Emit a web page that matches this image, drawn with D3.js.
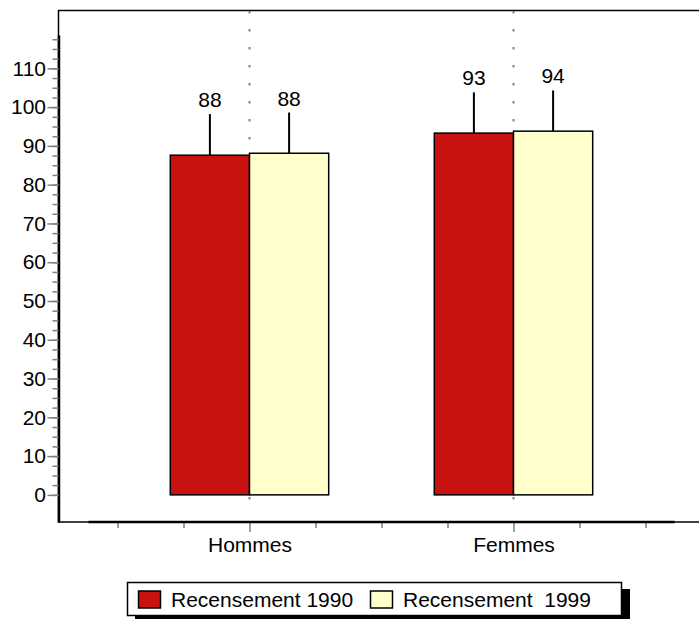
<!DOCTYPE html>
<html>
<head>
<meta charset="utf-8">
<script src="https://cdn.jsdelivr.net/npm/d3@7"></script>
<style>
  html, body { margin: 0; padding: 0; background: #fff; }
  svg { display: block; }
  text { font-family: "Liberation Sans", Arial, sans-serif; }
</style>
</head>
<body>
<svg id="chart" width="699" height="619"></svg>
<script>
// ---- data ----
const categories = ["Hommes", "Femmes"];
const seriesNames = ["Recensement 1990", "Recensement  1999"];
const values1990 = [87.6, 93.3];
const values1999 = [88.1, 93.8];
const errors1990 = [10.6, 10.5];
const errors1999 = [10.5, 10.5];
const yMajorTicks = [0, 10, 20, 30, 40, 50, 60, 70, 80, 90, 100, 110];

const colors = ["#C8120F", "#FFFFCC"];
const fontSize = 21;

const svg = d3.select("#chart");

// scales
const y = d3.scaleLinear().domain([-7, 118.6]).range([522, 35]);
const x = d3.scaleLinear().domain([1, 2]).range([249.5, 513.5]);
const barW = 0.3; // in x units

// frame
svg.append("rect")
  .attr("x", 58.5).attr("y", 10.5).attr("width", 700).attr("height", 511.5)
  .attr("fill", "none").attr("stroke", "#000").attr("stroke-width", 1.5);

// dotted gridlines at category centres
svg.append("g").selectAll("line")
  .data(categories)
  .join("line")
  .attr("x1", (d, i) => x(i + 1)).attr("x2", (d, i) => x(i + 1))
  .attr("y1", 11).attr("y2", 514)
  .attr("stroke", "#808080").attr("stroke-width", 2)
  .attr("stroke-dasharray", "2.5,15.5");

// bars
const series = [
  { name: seriesNames[0], values: values1990, errors: errors1990, color: colors[0], offset: -barW },
  { name: seriesNames[1], values: values1999, errors: errors1999, color: colors[1], offset: 0 }
];

const gBars = svg.append("g");
series.forEach(s => {
  const g = gBars.append("g");
  g.selectAll("line.err")
    .data(s.values)
    .join("line")
    .attr("class", "err")
    .attr("x1", (d, i) => x(i + 1 + s.offset + barW / 2))
    .attr("x2", (d, i) => x(i + 1 + s.offset + barW / 2))
    .attr("y1", d => y(d))
    .attr("y2", (d, i) => y(d + s.errors[i]))
    .attr("stroke", "#000").attr("stroke-width", 2);
  g.selectAll("rect")
    .data(s.values)
    .join("rect")
    .attr("x", (d, i) => x(i + 1 + s.offset))
    .attr("width", x(1 + barW) - x(1))
    .attr("y", d => y(d))
    .attr("height", d => y(0) - y(d))
    .attr("fill", s.color)
    .attr("stroke", "#000").attr("stroke-width", 1.5);
  g.selectAll("text")
    .data(s.values)
    .join("text")
    .attr("x", (d, i) => x(i + 1 + s.offset + barW / 2))
    .attr("y", (d, i) => y(d + s.errors[i]) - 7)
    .attr("text-anchor", "middle")
    .attr("font-size", fontSize)
    .attr("fill", "#000")
    .text(d => Math.round(d));
});

// y axis: minor ticks
const minorTicks = d3.range(0, 118, 2.5);
const yMinor = svg.append("g")
  .attr("transform", "translate(58.5,0)")
  .call(d3.axisLeft(y).tickValues(minorTicks).tickSize(6).tickSizeOuter(0).tickFormat(""));
yMinor.selectAll(".tick line").attr("stroke", "#808080").attr("stroke-width", 1.5);
yMinor.select(".domain").attr("stroke", "#000").attr("stroke-width", 2.5);

const yMajor = svg.append("g")
  .attr("transform", "translate(58.5,0)")
  .call(d3.axisLeft(y).tickValues(yMajorTicks).tickSize(11).tickPadding(1.5).tickSizeOuter(0));
yMajor.select(".domain").remove();
yMajor.selectAll(".tick line").attr("stroke", "#808080").attr("stroke-width", 1.5);
yMajor.selectAll(".tick text")
  .attr("font-size", fontSize).attr("font-family", "Liberation Sans, Arial, sans-serif")
  .attr("fill", "#000");

// x axis
const xMinorTicks = [0.5, 0.75, 1.25, 1.5, 1.75, 2.25, 2.5];
const xMinor = svg.append("g")
  .attr("transform", "translate(0,522)")
  .call(d3.axisBottom(x).tickValues(xMinorTicks).tickSize(6).tickSizeOuter(0).tickFormat(""));
xMinor.select(".domain").remove();
xMinor.selectAll(".tick line").attr("stroke", "#808080").attr("stroke-width", 1.5);

const xMajor = svg.append("g")
  .attr("transform", "translate(0,522)")
  .call(d3.axisBottom(x).tickValues([1, 2]).tickSize(10).tickPadding(5).tickSizeOuter(0)
    .tickFormat((d, i) => categories[i]));
xMajor.select(".domain").remove();
xMajor.selectAll(".tick line").attr("stroke", "#808080").attr("stroke-width", 1.5);
xMajor.selectAll(".tick text")
  .attr("font-size", fontSize).attr("font-family", "Liberation Sans, Arial, sans-serif")
  .attr("fill", "#000");

svg.append("line")
  .attr("x1", x(0.39)).attr("x2", x(2.61))
  .attr("y1", 522).attr("y2", 522)
  .attr("stroke", "#000").attr("stroke-width", 2.5);

// legend
const leg = svg.append("g");
leg.append("rect").attr("x", 135).attr("y", 589).attr("width", 495).attr("height", 33).attr("fill", "#000");
leg.append("rect").attr("x", 127.5).attr("y", 582.5).attr("width", 494).attr("height", 33)
  .attr("fill", "#fff").attr("stroke", "#000").attr("stroke-width", 1.5);
const legItems = [
  { sx: 138.5, tx: 171 },
  { sx: 370.5, tx: 403 }
];
legItems.forEach((it, i) => {
  leg.append("rect").attr("x", it.sx).attr("y", 591).attr("width", 22).attr("height", 17)
    .attr("fill", colors[i]).attr("stroke", "#000").attr("stroke-width", 1.5);
  leg.append("text").attr("x", it.tx).attr("y", 606.5)
    .attr("font-size", fontSize).attr("fill", "#000")
    .attr("xml:space", "preserve").style("white-space", "pre")
    .text(seriesNames[i]);
});
</script>
</body>
</html>
